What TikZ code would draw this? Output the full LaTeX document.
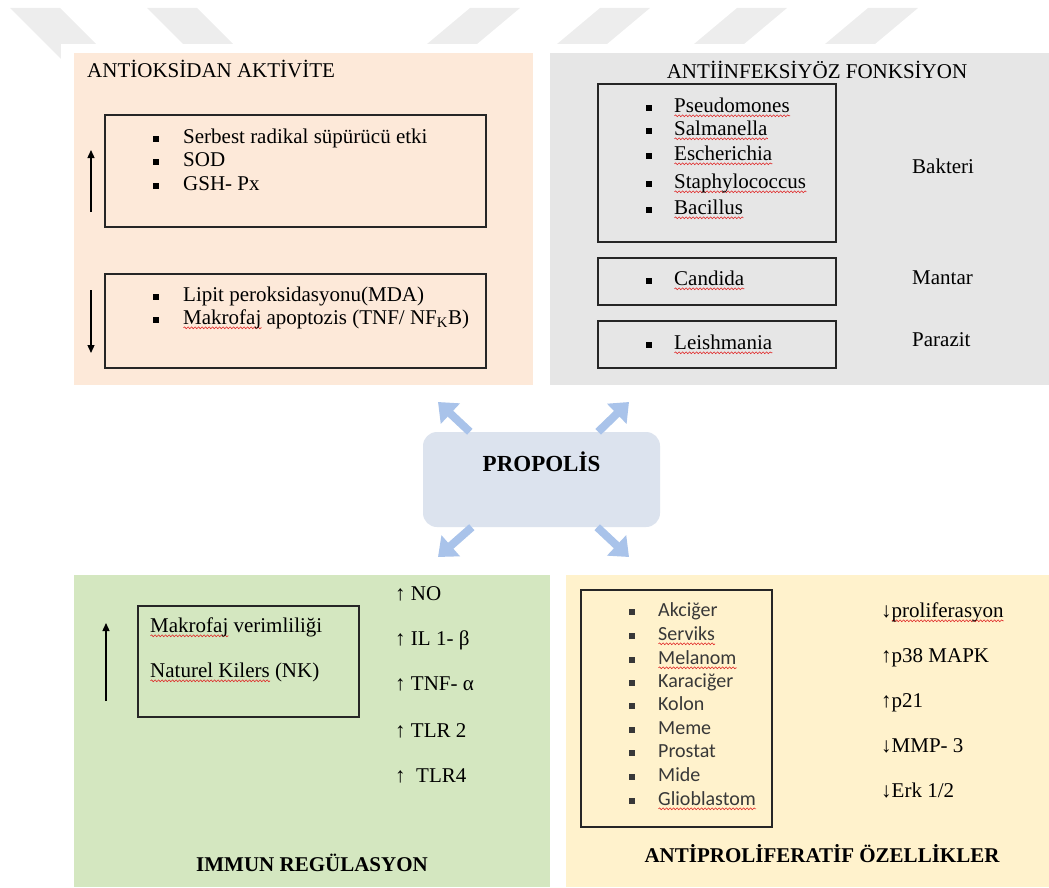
\documentclass[tikz,border=0pt]{standalone}
\usepackage{fontspec}
\setmainfont{Liberation Serif}
\newfontfamily\listfont{Carlito}
\usetikzlibrary{arrows.meta,decorations.pathmorphing}

\definecolor{peach}{HTML}{FDE9D9}
\definecolor{panelgrey}{HTML}{E6E6E6}
\definecolor{leaf}{HTML}{D4E7C0}
\definecolor{cream}{HTML}{FFF2CC}
\definecolor{propfill}{HTML}{DCE3EE}
\definecolor{propblue}{HTML}{A9C3EA}
\definecolor{stamp}{HTML}{EDEDED}
\definecolor{squiggle}{HTML}{E02424}

% red wavy underline and square bullet
\newsavebox\spellbox
\newcommand\spell[1]{\sbox\spellbox{#1}\rlap{\tikz[baseline=0pt,x=1pt,y=1pt]
  \draw[squiggle,line width=0.6pt,decorate,decoration={snake,amplitude=0.9pt,segment length=3.5pt}]
  (0,-3.5) -- (\wd\spellbox,-3.5);}#1}
\newcommand\itm[2][26pt]{\makebox[#1][l]{\raisebox{1.5pt}{\rule{5.5pt}{5.5pt}}}#2}

\tikzset{
  txt/.style={anchor=mid west, inner sep=0pt, font=\fontsize{21}{24}\selectfont},
  lst/.style={txt, text=black!78, font=\listfont\fontsize{20}{23}\selectfont},
  ttl/.style={anchor=mid, inner sep=0pt, font=\bfseries\fontsize{21}{24}\selectfont},
  frame/.style={draw=black!85, line width=1.4pt},
  trend/.style={line width=1.3pt, -{Triangle[length=8pt,width=7pt]}},
  spread/.style={propblue, line width=8pt, -{Triangle[length=17pt,width=27pt]}},
  prop/.style={fill=propfill, rounded corners=14pt, minimum width=237pt,
    minimum height=95pt, inner sep=0pt},
}

\begin{document}
\begin{tikzpicture}[x=1pt,y=-1pt]
  \useasboundingbox (0,0) rectangle (1049,888);

  % stamp strokes at the page head
  \fill[stamp] (10,8) -- (60,8) -- (122,70) -- (72,70) -- cycle;
  \fill[stamp] (147,8) -- (197,8) -- (259,70) -- (209,70) -- cycle;
  \fill[stamp] (470,8) -- (520,8) -- (446,70) -- (396,70) -- cycle;
  \fill[stamp] (600,8) -- (650,8) -- (576,70) -- (526,70) -- cycle;
  \fill[stamp] (737,8) -- (787,8) -- (713,70) -- (663,70) -- cycle;
  \fill[stamp] (868,8) -- (918,8) -- (844,70) -- (794,70) -- cycle;
  \fill[white] (61,44) rectangle (1049,888);

  % four panels
  \fill[peach] (74,53) rectangle (533,385);
  \fill[panelgrey] (550,53) rectangle (1049,385);
  \fill[leaf] (74,575) rectangle (550,887);
  \fill[cream] (566,575) rectangle (1049,887);

  % antioksidan
  \node[txt] (aoTitle) at (87,75) {ANTİOKSİDAN AKTİVİTE};
  \draw[frame] (105,115) rectangle (486,227);
  \draw[frame] (105,274) rectangle (486,368);
  \draw[trend] (91,212) -- (91,150);
  \draw[trend] (91,290) -- (91,353);
  \node[txt] (aoUp1) at (153,141) {\itm[30pt]{Serbest radikal süpürücü etki}};
  \node[txt] (aoUp2) at (153,164) {\itm[30pt]{SOD}};
  \node[txt] (aoUp3) at (153,188) {\itm[30pt]{GSH- Px}};
  \node[txt] (aoDn1) at (153,299) {\itm[30pt]{Lipit peroksidasyonu(MDA)}};
  \node[txt] (aoDn2) at (153,322) {\itm[30pt]{\spell{Makrofaj} apoptozis (TNF/ NF\textsubscript{K}B)}};

  % antiinfeksiyoz
  \node[txt, anchor=mid] (aiTitle) at (817,76) {ANTİİNFEKSİYÖZ FONKSİYON};
  \draw[frame] (598,84) rectangle (836,242);
  \draw[frame] (598,258) rectangle (836,305);
  \draw[frame] (598,321) rectangle (836,368);
  \node[txt] (bak1) at (646,110) {\itm[28pt]{\spell{Pseudomones}}};
  \node[txt] (bak2) at (646,133) {\itm[28pt]{\spell{Salmanella}}};
  \node[txt] (bak3) at (646,158) {\itm[28pt]{\spell{Escherichia}}};
  \node[txt] (bak4) at (646,186) {\itm[28pt]{\spell{Staphylococcus}}};
  \node[txt] (bak5) at (646,212) {\itm[28pt]{\spell{Bacillus}}};
  \node[txt] (man1) at (646,283) {\itm[28pt]{\spell{Candida}}};
  \node[txt] (par1) at (646,347) {\itm[28pt]{\spell{Leishmania}}};
  \node[txt] (bakLbl) at (912,171) {Bakteri};
  \node[txt] (manLbl) at (912,282) {Mantar};
  \node[txt] (parLbl) at (912,344) {Parazit};

  % immun
  \draw[frame] (138,606) rectangle (359,717);
  \draw[trend] (106,701) -- (106,623);
  \node[txt] (imm1) at (150,630) {\spell{Makrofaj} verimliliği};
  \node[txt] (imm2) at (150,675) {\spell{Naturel Kilers} (NK)};
  \node[txt] (cyt1) at (395,598) {↑ NO};
  \node[txt] (cyt2) at (395,643) {↑ IL 1- β};
  \node[txt] (cyt3) at (395,688) {↑ TNF- α};
  \node[txt] (cyt4) at (395,735) {↑ TLR 2};
  \node[txt] (cyt5) at (395,780) {↑\ \ TLR4};
  \node[ttl] (immTitle) at (312,869) {IMMUN REGÜLASYON};

  % antiproliferatif
  \draw[frame] (581,590) rectangle (772,827);
  \node[lst] (org1) at (629,614) {\itm[29pt]{Akciğer}};
  \node[lst] (org2) at (629,638) {\itm[29pt]{\spell{Serviks}}};
  \node[lst] (org3) at (629,662) {\itm[29pt]{\spell{Melanom}}};
  \node[lst] (org4) at (629,685) {\itm[29pt]{Karaciğer}};
  \node[lst] (org5) at (629,708) {\itm[29pt]{Kolon}};
  \node[lst] (org6) at (629,732) {\itm[29pt]{Meme}};
  \node[lst] (org7) at (629,755) {\itm[29pt]{Prostat}};
  \node[lst] (org8) at (629,779) {\itm[29pt]{Mide}};
  \node[lst] (org9) at (629,803) {\itm[29pt]{\spell{Glioblastom}}};
  \node[txt] (mrk1) at (881,615) {↓\spell{proliferasyon}};
  \node[txt] (mrk2) at (881,660) {↑p38 MAPK};
  \node[txt] (mrk3) at (881,705) {↑p21};
  \node[txt] (mrk4) at (881,750) {↓MMP- 3};
  \node[txt] (mrk5) at (881,795) {↓Erk 1/2};
  \node[ttl] (apTitle) at (822,860) {ANTİPROLİFERATİF ÖZELLİKLER};

  % propolis in the middle
  \coordinate (ulTip) at (438,402);
  \coordinate (urTip) at (629,402);
  \coordinate (llTip) at (438,557);
  \coordinate (lrTip) at (629,557);
  \node[prop] (prop) at (541.5,479.5) {};
  \node[ttl, font=\bfseries\fontsize{23}{26}\selectfont] (propLbl) at (541.5,469) {PROPOLİS};
  \draw[spread] ([xshift=47pt]prop.north west) -- (ulTip);
  \draw[spread] ([xshift=-62pt]prop.north east) -- (urTip);
  \draw[spread] ([xshift=49pt]prop.south west) -- (llTip);
  \draw[spread] ([xshift=-63pt]prop.south east) -- (lrTip);
\end{tikzpicture}
\end{document}
